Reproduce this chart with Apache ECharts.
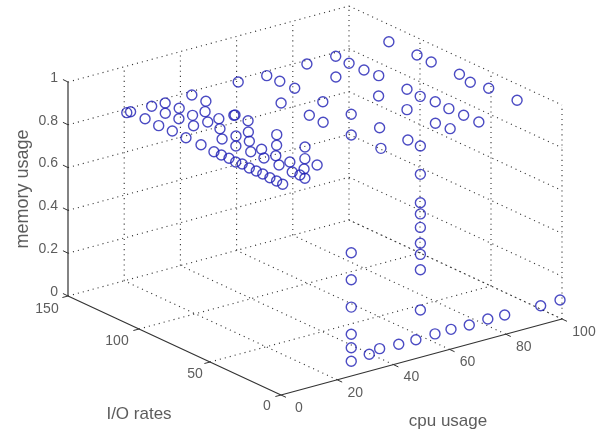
<!DOCTYPE html>
<html><head><meta charset="utf-8"><style>html,body{margin:0;padding:0;background:#fff}#c{width:605px;height:434px}</style>
<script src="https://cdn.jsdelivr.net/npm/echarts@6/dist/echarts.min.js"></script></head>
<body><div id="c"></div><script>
const cpuTicks=[0,20,40,60,80,100];
const ioTicks=[0,50,100,150];
const memTicks=[0,0.2,0.4,0.6,0.8,1];
const memTickLabels=['0','0.2','0.4','0.6','0.8','1'];
const cpuUsage=[19.8,19.9,20,19.7,20.2,19.9,20,20,19.8,19.7,19.5,
20.3,20.3,20.5,20,20.3,20.4,19.1,27.8,32.4,27.5,33,27.9,42.3,32.6,27.8,37.2,42.4,32.8,36.9,32.3,27.8,41.9,42.3,32.4,27.5,59,42.5,37.1,32.8,28.1,31.7,28,31.8,37,42.2,28,31.9,27.6,27.9,27.4,31.7,36.9,42.6,36.6,
68.5,68.7,68.7,58.5,83.2,93.4,93,83.4,68.5,58.9,58.6,68.8,58.8,93.1,93.7,83.8,68.7,59,
91.7,91.6,91.4,91.8,90.4,91.6,92.2,
93.8,93.6,93.5,93.8,93,93.5,83.6,83.4,84.1,69.1,69,
49.6,49.6,49.6,49.6,49.6,49.6,49.6,49.6,
25,25,25,25,25,25,
31.4,35.1,41.9,48,54.8,60.5,67,73.6,79.6,92.4,99.3];
const ioRates=[86.4,81.4,76.2,70.9,67.3,61.7,57,52.4,47,42.1,37.4,
96.5,107.1,117.1,125.7,135.9,146.3,146.4,146.1,145.7,135.9,137,127.1,146.5,126.8,116.6,127.1,136.8,116.5,116.8,106.9,96.5,116.1,116.1,95.8,86.2,146.9,107.3,96.4,87.2,76.9,76.4,67.4,66.6,76.3,86.5,56.8,56.9,46.7,41.9,37.4,46.5,56.2,67.4,47,
145.6,136.8,126.3,115.7,146.4,146.3,136.1,126.4,106.1,96.6,86.3,86.7,66.9,125.8,116.6,97.1,66.5,46.4,
105.5,85.5,75.1,56,45.6,35,16.2,
46.3,56.6,66.8,77,86,96.3,76.7,56.3,47.3,47.4,38.4,
0,0,0,0,0,0,0,0,
0,0,0,0,0,0,
0,0,0,0,0,0,0,0,0,0,0];
const memoryUsage=[0.8,0.8,0.8,0.8,0.8,0.8,0.8,0.8,0.8,0.8,0.8,
0.8,0.8,0.8,0.8,0.8,0.8,0.8,0.8,0.8,0.8,0.8,0.8,0.8,0.8,0.8,0.8,0.8,0.8,0.8,0.8,0.8,0.8,0.8,0.8,0.8,0.8,0.8,0.8,0.8,0.8,0.8,0.8,0.8,0.8,0.8,0.8,0.8,0.8,0.8,0.8,0.8,0.8,0.8,0.8,
0.8,0.8,0.8,0.8,0.8,0.8,0.8,0.8,0.8,0.8,0.8,0.8,0.8,0.8,0.8,0.8,0.8,0.8,
1,1,1,1,1,1,1,
0.8,0.8,0.8,0.8,0.8,0.8,0.8,0.8,0.8,0.8,0.8,
0.855,0.722,0.67,0.607,0.533,0.481,0.409,0.221,
0.576,0.45,0.322,0.195,0.132,0.069,
0.079,0.092,0.088,0.088,0.091,0.092,0.089,0.094,0.091,0.089,0.091];

// fixed oblique view of the three data axes onto the page
const view={ox:281,oy:395,cx:2.81,cy:-0.76,ix:-1.42,iy:-0.66,mz:-214};
const project=(c,i,m)=>[view.ox+view.cx*c+view.ix*i, view.oy+view.cy*c+view.iy*i+view.mz*m];
const CMAX=100,IMAX=150,MMAX=1;

function segs(list){const out=[];list.forEach(s=>{out.push(project(...s[0]),project(...s[1]),[null,null]);});return out;}
const grid=[];
cpuTicks.forEach(c=>{ if(c>0) grid.push([[c,0,0],[c,IMAX,0]]); if(c>0) grid.push([[c,IMAX,0],[c,IMAX,MMAX]]);});
ioTicks.forEach(i=>{ if(i>0) grid.push([[0,i,0],[CMAX,i,0]]); if(i<IMAX) grid.push([[CMAX,i,0],[CMAX,i,MMAX]]);});
memTicks.forEach(m=>{ grid.push([[0,IMAX,m],[CMAX,IMAX,m]]); grid.push([[CMAX,IMAX,m],[CMAX,0,m]]);});
const axes=[[[0,IMAX,0],[0,IMAX,MMAX]],[[0,IMAX,0],[0,0,0]],[[0,0,0],[CMAX,0,0]]];
const t=[];
memTicks.forEach(m=>t.push([[0,IMAX,m],[-1.8,IMAX,m+0.018]]));
ioTicks.forEach(i=>t.push([[0,i,0],[-2,i,0]]));
cpuTicks.forEach(c=>t.push([[c,0,0],[c,-3.5,0]]));

function lineS(data,w,type,color){return {type:'line',data,symbol:'none',silent:true,connectNulls:false,animation:false,
 lineStyle:{color,width:w,type}};}
function labels(rows){return {type:'scatter',symbolSize:0,silent:true,animation:false,z:5,
 data:rows.map(r=>({value:r.p,label:{show:true,formatter:r.t,position:[0,0],align:r.a||'center',verticalAlign:'middle',
 fontFamily:'"Liberation Sans",Arial,sans-serif',fontSize:r.s||14,color:'#333',rotate:r.r||0}}))};}
const tickLabelRows=[];
memTicks.forEach((m,k)=>{const p=project(0,IMAX,m);tickLabelRows.push({p:[58,p[1]-4],t:memTickLabels[k],a:'right'});});
ioTicks.forEach(i=>{const p=project(0,i,0);tickLabelRows.push({p:[p[0]-(i===0?14:i===50?15:i===100?22:21),p[1]+(i===0?11:i===150?13:12)],t:String(i),a:'center'});});
cpuTicks.forEach(c=>{const p=project(c,0,0);tickLabelRows.push({p:[p[0]+(c===100?22:18),p[1]+13],t:String(c),a:'center'});});
const titleRows=[
 {p:[448,421],t:'cpu usage',s:17},
 {p:[139,414],t:'I/O rates',s:17},
 {p:[23,189],t:'memory usage',s:18,r:90}];
const points=cpuUsage.map((c,k)=>project(c,ioRates[k],memoryUsage[k]));
const chart=echarts.init(document.getElementById('c'),null,{renderer:'canvas'});
chart.setOption({animation:false,backgroundColor:'#fff',
 grid:{left:0,right:0,top:0,bottom:0},
 xAxis:{type:'value',min:0,max:605,show:false},
 yAxis:{type:'value',min:0,max:434,inverse:true,show:false},
 series:[
  lineS(segs(grid),1.1,[1.1,4],'#333'),
  lineS(segs(axes),1.2,'solid','#333'),
  lineS(segs(t),1,'solid','#333'),
  {type:'scatter',data:points,symbol:'circle',symbolSize:10,silent:true,animation:false,z:4,
   itemStyle:{color:'rgba(0,0,0,0)',borderColor:'#1e1eb4',borderWidth:1.4}},
  labels(tickLabelRows),labels(titleRows)
 ]});
</script></body></html>
